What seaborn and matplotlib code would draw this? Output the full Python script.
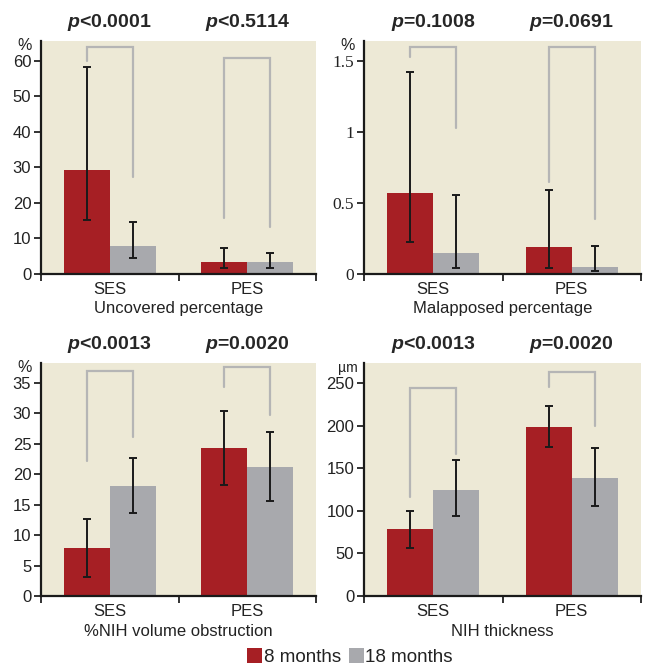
import matplotlib
matplotlib.use("Agg")
import matplotlib.pyplot as plt
import matplotlib.patches as mpatches
import seaborn as sns
import pandas as pd
import numpy as np

sns.set_style("white")
plt.rcParams['font.family'] = ['Liberation Sans', 'DejaVu Sans']
plt.rcParams['mathtext.fontset'] = 'custom'
plt.rcParams['mathtext.bfit'] = 'Liberation Sans:italic:bold'
plt.rcParams['mathtext.rm'] = 'Liberation Sans:bold'

# ---------------- data ----------------
categories = ["SES", "PES"]
periods = ["8 months", "18 months"]

unc_8m = [29.3, 3.4]
unc_18m = [7.9, 3.4]
unc_8m_lo = [15.1, 1.6]
unc_8m_hi = [58.4, 7.2]
unc_18m_lo = [4.5, 1.6]
unc_18m_hi = [14.6, 5.8]
unc_brackets = [(60.0, 63.9, 27.3), (15.8, 60.8, 13.2)]
unc_p = ["<0.0001", "<0.5114"]

mal_8m = [0.57, 0.19]
mal_18m = [0.146, 0.049]
mal_8m_lo = [0.228, 0.042]
mal_8m_hi = [1.425, 0.594]
mal_18m_lo = [0.045, 0.021]
mal_18m_hi = [0.558, 0.20]
mal_brackets = [(1.53, 1.597, 1.026), (0.65, 1.597, 0.39)]
mal_p = ["=0.1008", "=0.0691"]

vol_8m = [7.84, 24.3]
vol_18m = [18.1, 21.2]
vol_8m_lo = [3.07, 18.3]
vol_8m_hi = [12.66, 30.4]
vol_18m_lo = [13.7, 15.6]
vol_18m_hi = [22.75, 26.9]
vol_brackets = [(22.25, 37.0, 26.2), (34.3, 37.7, 29.8)]
vol_p = ["<0.0013", "=0.0020"]

nih_8m = [78.3, 198.6]
nih_18m = [124.6, 138.7]
nih_8m_lo = [56.0, 174.7]
nih_8m_hi = [99.9, 223.3]
nih_18m_lo = [94.4, 105.8]
nih_18m_hi = [159.0, 173.1]
nih_brackets = [(116.7, 243.6, 166.9), (245.2, 262.8, 200.0)]
nih_p = ["<0.0013", "=0.0020"]

titles = ["Uncovered percentage", "Malapposed percentage",
          "%NIH volume obstruction", "NIH thickness"]
units = ["%", "%", "%", "µm"]
yticks = [[0, 10, 20, 30, 40, 50, 60], [0, 0.5, 1, 1.5],
          [0, 5, 10, 15, 20, 25, 30, 35], [0, 50, 100, 150, 200, 250]]
ytick_labels = [["0", "10", "20", "30", "40", "50", "60"], ["0", "0.5", "1", "1.5"],
                ["0", "5", "10", "15", "20", "25", "30", "35"],
                ["0", "50", "100", "150", "200", "250"]]
ymax = [65.6, 1.64, 38.3, 273.4]

panels = [
    (unc_8m, unc_18m, unc_8m_lo, unc_8m_hi, unc_18m_lo, unc_18m_hi, unc_brackets, unc_p),
    (mal_8m, mal_18m, mal_8m_lo, mal_8m_hi, mal_18m_lo, mal_18m_hi, mal_brackets, mal_p),
    (vol_8m, vol_18m, vol_8m_lo, vol_8m_hi, vol_18m_lo, vol_18m_hi, vol_brackets, vol_p),
    (nih_8m, nih_18m, nih_8m_lo, nih_8m_hi, nih_18m_lo, nih_18m_hi, nih_brackets, nih_p),
]

RED = "#a61f24"
GREY = "#a8a9ad"
BG = "#ede9d6"
BRK = "#b5b5b5"

fig = plt.figure(figsize=(6.45, 6.66), dpi=100)
W, H = 645.0, 666.0
boxes = [(41, 316, 41, 274), (364, 641, 41, 274), (41, 316, 363, 596), (364, 641, 363, 596)]

tick_font = ['Liberation Sans Narrow', 'Liberation Sans', 'DejaVu Sans']

for i, (box, pdata) in enumerate(zip(boxes, panels)):
    x0, x1, ytop, ybot = box
    ax = fig.add_axes([x0 / W, 1 - ybot / H, (x1 - x0) / W, (ybot - ytop) / H])
    m8, m18, lo8, hi8, lo18, hi18, brackets, pvals = pdata
    df = pd.DataFrame({
        "stent": categories * 2,
        "period": [periods[0]] * 2 + [periods[1]] * 2,
        "value": list(m8) + list(m18),
        "lo": list(lo8) + list(lo18),
        "hi": list(hi8) + list(hi18),
    })
    sns.barplot(data=df, x="stent", y="value", hue="period", order=categories,
                hue_order=periods, palette=[RED, GREY], width=2 / 3, errorbar=None,
                saturation=1, linewidth=0, ax=ax, legend=False)
    ax.set_facecolor(BG)
    # error bars at bar centres
    centers = {}
    for patch in ax.patches:
        cx = patch.get_x() + patch.get_width() / 2
        grp = int(round(cx))
        hue_idx = 0 if cx < grp else 1
        centers[(grp, hue_idx)] = cx
    for _, row in df.iterrows():
        g = categories.index(row["stent"])
        hidx = periods.index(row["period"])
        cx = centers[(g, hidx)]
        ax.errorbar([cx], [row["value"]],
                    yerr=[[row["value"] - row["lo"]], [row["hi"] - row["value"]]],
                    fmt="none", ecolor="#1a1a1a", elinewidth=1.4, capsize=2.6,
                    capthick=1.4, zorder=5)
    # brackets
    for g, (lb, top, rb) in enumerate(brackets):
        xl = centers[(g, 0)]
        xr = centers[(g, 1)]
        ax.plot([xl, xl, xr, xr], [lb, top, top, rb], color=BRK, lw=1.6,
                solid_joinstyle="miter", clip_on=False, zorder=4)
        ax.annotate(r"$\mathbfit{p}$" + pvals[g], xy=(g, 1.0),
                    xycoords=("data", "axes fraction"), xytext=(0, 13),
                    textcoords="offset points", ha="center", va="center",
                    fontsize=14, fontweight="bold", annotation_clip=False)
    ax.set_xlim(-0.5, 1.5)
    ax.set_ylim(0, ymax[i])
    ax.set_yticks(yticks[i])
    if i == 1:
        ax.set_yticklabels(ytick_labels[i], family=['Liberation Serif', 'DejaVu Serif'],
                           fontsize=12.5)
    else:
        ax.set_yticklabels(ytick_labels[i], family=tick_font, fontsize=12)
    ax.set_xticks([0, 1])
    ax.set_xticklabels(categories, fontsize=12)
    ax.set_xticks([-0.5, 0.5, 1.5], minor=True)
    ax.tick_params(axis="x", which="major", length=0, pad=6, colors="#222222")
    ax.tick_params(axis="x", which="minor", length=5, width=1.3, direction="out",
                   color="#222222", bottom=True)
    ax.tick_params(axis="y", length=5, width=1.3, direction="out", left=True,
                   color="#222222", pad=2, labelcolor="#222222")
    ax.set_xlabel(titles[i], fontsize=12, labelpad=3, color="#222222")
    ax.set_ylabel("")
    for s in ["top", "right"]:
        ax.spines[s].set_visible(False)
    for s in ["left", "bottom"]:
        ax.spines[s].set_color("#1a1a1a")
        ax.spines[s].set_linewidth(1.6)
    ax.text(-16.5 / (x1 - x0), 1 - 5 / (ybot - ytop), units[i], transform=ax.transAxes,
            ha="center", va="center", fontsize=11.5 if units[i] == "%" else 10,
            family=tick_font, color="#222222")

handles = [mpatches.Patch(facecolor=RED, edgecolor="none", label=periods[0]),
           mpatches.Patch(facecolor=GREY, edgecolor="none", label=periods[1])]
fig.legend(handles=handles, loc="center", bbox_to_anchor=(350 / W, 1 - 657 / H), ncol=2,
           frameon=False, fontsize=13.5, handlelength=0.8, handleheight=0.85,
           handletextpad=0.1, columnspacing=0.4, borderpad=0, labelcolor="#222222")

fig.savefig("out.png", dpi=100)
